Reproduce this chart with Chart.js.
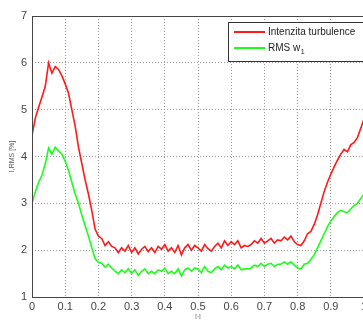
<!DOCTYPE html>
<html>
<head>
<meta charset="utf-8">
<script src="https://cdn.jsdelivr.net/npm/chart.js@4.4.0/dist/chart.umd.min.js"></script>
<style>
html,body{margin:0;padding:0;background:#fff;overflow:hidden;width:363px;height:320px;}
canvas{display:block;}
</style>
</head>
<body>
<canvas id="c" width="372" height="320"></canvas>
<script>
const xValues = [0,0.01,0.02,0.03,0.04,0.05,0.06,0.07,0.08,0.09,0.1,0.11,0.12,0.13,0.14,0.15,0.16,0.17,0.18,0.19,0.2,0.21,0.22,0.23,0.24,0.25,0.26,0.27,0.28,0.29,0.3,0.31,0.32,0.33,0.34,0.35,0.36,0.37,0.38,0.39,0.4,0.41,0.42,0.43,0.44,0.45,0.46,0.47,0.48,0.49,0.5,0.51,0.52,0.53,0.54,0.55,0.56,0.57,0.58,0.59,0.6,0.61,0.62,0.63,0.64,0.65,0.66,0.67,0.68,0.69,0.7,0.71,0.72,0.73,0.74,0.75,0.76,0.77,0.78,0.79,0.8,0.81,0.82,0.83,0.84,0.85,0.86,0.87,0.88,0.89,0.9,0.91,0.92,0.93,0.94,0.95,0.96,0.97,0.98,0.99,1.0];
const intenzita = [4.45,4.82,5.05,5.27,5.5,6.0,5.78,5.92,5.86,5.72,5.55,5.35,5.0,4.65,4.2,3.85,3.5,3.2,2.85,2.45,2.3,2.25,2.1,2.18,2.08,2.05,1.95,2.05,1.98,2.1,1.95,2.05,1.92,2.02,2.08,1.97,2.05,1.95,2.08,2.02,2.12,1.98,2.05,1.95,2.1,1.9,2.05,2.12,2.0,2.1,2.05,1.98,2.12,2.03,1.98,2.08,2.15,2.05,2.2,2.1,2.18,2.12,2.2,2.05,2.1,2.08,2.12,2.2,2.15,2.25,2.15,2.2,2.25,2.15,2.22,2.2,2.28,2.22,2.3,2.18,2.12,2.1,2.2,2.35,2.4,2.55,2.75,3.0,3.25,3.45,3.62,3.78,3.92,4.05,4.15,4.1,4.25,4.3,4.4,4.6,4.8];
const rmsW1 = [3.0,3.25,3.45,3.6,3.85,4.18,4.05,4.2,4.12,4.05,3.9,3.7,3.45,3.2,3.0,2.75,2.52,2.3,2.05,1.82,1.74,1.72,1.64,1.7,1.62,1.55,1.5,1.58,1.52,1.6,1.5,1.58,1.46,1.55,1.6,1.5,1.55,1.5,1.58,1.55,1.62,1.5,1.55,1.5,1.6,1.45,1.58,1.62,1.55,1.62,1.6,1.52,1.65,1.55,1.52,1.6,1.65,1.58,1.68,1.62,1.65,1.6,1.68,1.58,1.6,1.6,1.62,1.68,1.65,1.72,1.65,1.7,1.72,1.65,1.7,1.7,1.75,1.7,1.75,1.68,1.62,1.6,1.7,1.72,1.8,1.9,2.05,2.2,2.35,2.5,2.62,2.72,2.8,2.85,2.82,2.8,2.88,2.95,3.0,3.1,3.2];
const seriesLabels = ['Intenzita turbulence', 'RMS w'];
const xTicks = [0,0.1,0.2,0.3,0.4,0.5,0.6,0.7,0.8,0.9,1];
const yTicks = [1,2,3,4,5,6,7];

const toPts = ys => ys.map((y, i) => ({x: xValues[i], y: y}));

const framePlugin = {
  id: 'frame',
  afterDraw(chart) {
    const {ctx, chartArea: a} = chart;
    ctx.save();
    ctx.strokeStyle = '#444';
    ctx.lineWidth = 1;
    ctx.strokeRect(a.left + 0.5, a.top + 0.5, a.right - a.left, a.bottom - a.top);
    // legend box
    const bx = 228.5, by = 22.5, bw = 140, bh = 39;
    ctx.fillStyle = '#fff';
    ctx.fillRect(bx, by, bw, bh);
    ctx.strokeStyle = '#333';
    ctx.strokeRect(bx, by, bw, bh);
    const ds = chart.data.datasets;
    ctx.font = '10px "Liberation Sans", Arial, sans-serif';
    ctx.textBaseline = 'middle';
    const rows = [32, 48];
    ds.forEach((d, i) => {
      ctx.strokeStyle = d.borderColor;
      ctx.lineWidth = 2;
      ctx.beginPath();
      ctx.moveTo(234, rows[i]);
      ctx.lineTo(265, rows[i]);
      ctx.stroke();
      ctx.fillStyle = '#222';
      ctx.fillText(d.label, 268, rows[i]);
      if (i === 1) {
        const w = ctx.measureText(d.label).width;
        ctx.font = '7px "Liberation Sans", Arial, sans-serif';
        ctx.fillText('1', 268 + w + 0.5, rows[i] + 4);
        ctx.font = '10px "Liberation Sans", Arial, sans-serif';
      }
    });
    ctx.restore();
  }
};

new Chart(document.getElementById('c'), {
  type: 'line',
  data: {
    datasets: [
      {label: seriesLabels[0], data: toPts(intenzita), borderColor: '#ff1a1a', borderWidth: 1.6, pointRadius: 0, tension: 0, fill: false},
      {label: seriesLabels[1], data: toPts(rmsW1), borderColor: '#1aff1a', borderWidth: 1.6, pointRadius: 0, tension: 0, fill: false}
    ]
  },
  options: {
    responsive: false,
    animation: false,
    devicePixelRatio: 1,
    layout: {padding: {left: 0, right: 8, top: 16, bottom: 0}},
    plugins: {legend: {display: false}, tooltip: {enabled: false}},
    scales: {
      x: {
        type: 'linear', min: 0, max: 1,
        afterBuildTicks: s => { s.ticks = xTicks.map(v => ({value: v})); },
        afterFit: s => { s.height = 23; },
        grid: {color: '#9a9a9a', lineWidth: 1, tickLength: 0, drawTicks: false},
        border: {display: false, dash: [1, 2]},
        ticks: {color: '#444', font: {family: '"Liberation Sans", Arial, sans-serif', size: 11}, padding: 3, maxRotation: 0,
          callback: v => String(v)},
        title: {display: true, text: '[-]', color: '#555', font: {family: '"Liberation Sans", Arial, sans-serif', size: 6}, padding: {top: 0, bottom: 0}}
      },
      y: {
        type: 'linear', min: 1, max: 7,
        afterBuildTicks: s => { s.ticks = yTicks.map(v => ({value: v})); },
        afterFit: s => { s.width = 32; },
        grid: {color: '#9a9a9a', lineWidth: 1, tickLength: 0, drawTicks: false},
        border: {display: false, dash: [1, 2]},
        ticks: {color: '#444', font: {family: '"Liberation Sans", Arial, sans-serif', size: 11}, padding: 5},
        title: {display: true, text: 'I,RMS [%]', color: '#555', font: {family: '"Liberation Sans", Arial, sans-serif', size: 7}, padding: {top: 8, bottom: 0}}
      }
    }
  },
  plugins: [framePlugin]
});
</script>
</body>
</html>
